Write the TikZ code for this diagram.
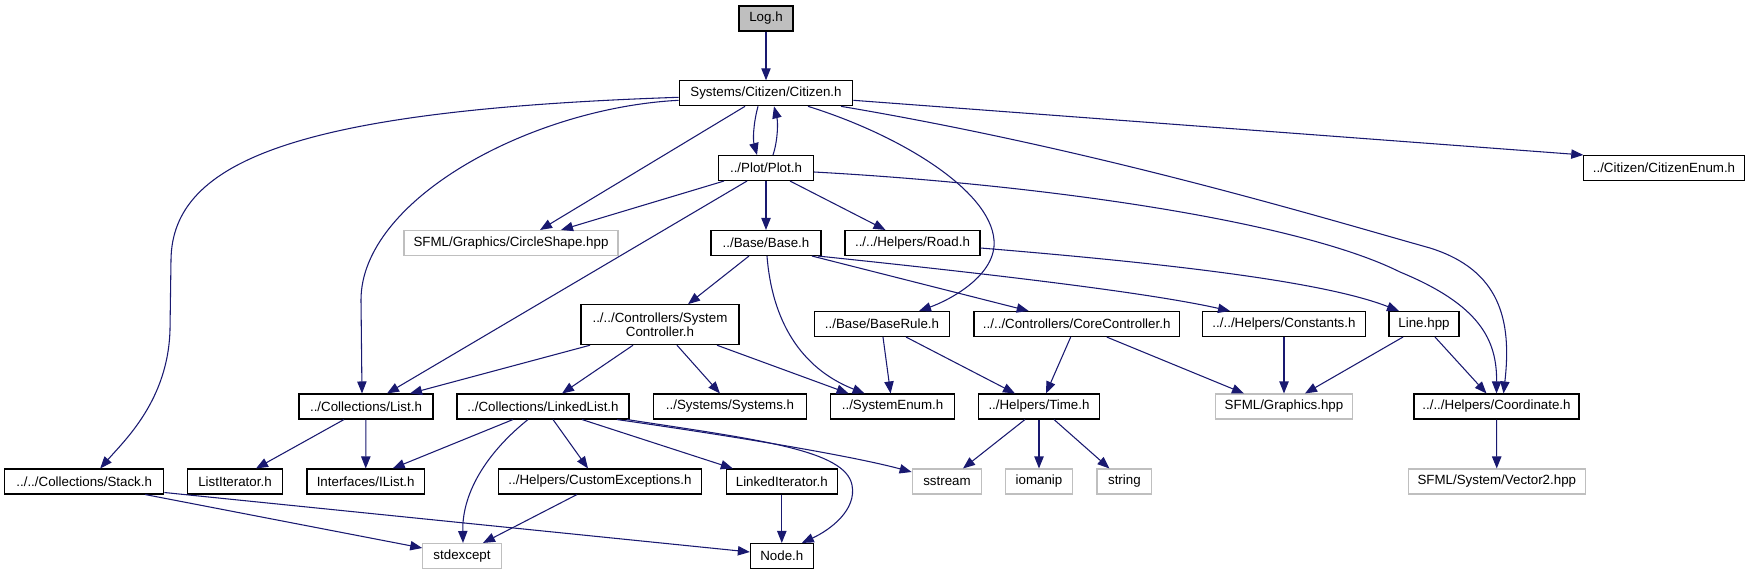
\documentclass[tikz,border=0pt]{standalone}
\usepackage{fontspec}
\setmainfont{Liberation Sans}
\usetikzlibrary{arrows.meta,calc}
\definecolor{edgec}{HTML}{191970}
\definecolor{grey75}{HTML}{BFBFBF}
\begin{document}
\begin{tikzpicture}[x=0.75pt,y=-0.75pt,
  dep/.style={draw=edgec, line width=0.8pt, -{Triangle[length=9pt,width=7pt]}},
  box/.style={draw=black, line width=0.8pt, fill=white, inner sep=0pt, minimum height=18.75pt, font=\fontsize{10}{10.5}\selectfont, align=center},
  ext/.style={box, draw=grey75},
  bw/.style={minimum width=#1*0.75pt}]
\useasboundingbox (0,0) rectangle (1757,575);
% row 0
\node[box, bw=54, fill=grey75] (log) at (766,18.5) {Log.h};
% row 1
\node[box, bw=173.6] (cit) at (766,93.3) {Systems/Citizen/Citizen.h};
% row 2
\node[box, bw=95] (plot) at (766,168) {../Plot/Plot.h};
\node[box, bw=160.4] (cenum) at (1664,168) {../Citizen/CitizenEnum.h};
% row 3
\node[ext, bw=214] (circ) at (511,243) {SFML/Graphics/CircleShape.hpp};
\node[box, bw=110] (base) at (766,243) {../Base/Base.h};
\node[box, bw=135] (road) at (912.5,243) {../../Helpers/Road.h};
% row 4
\node[box, bw=158, minimum height=30pt] (sysctl) at (660,324.7) {../../Controllers/System\\Controller.h};
\node[box, bw=134.7] (baserule) at (882,324) {../Base/BaseRule.h};
\node[box, bw=205.4] (corectl) at (1076.7,324) {../../Controllers/CoreController.h};
\node[box, bw=162.5] (constants) at (1284,324) {../../Helpers/Constants.h};
\node[box, bw=70] (line) at (1424,324) {Line.hpp};
% row 5
\node[box, bw=134] (list) at (366,406.5) {../Collections/List.h};
\node[box, bw=172] (linked) at (543,406.5) {../Collections/LinkedList.h};
\node[box, bw=153.5] (systems) at (730,406.5) {../Systems/Systems.h};
\node[box, bw=124.4] (sysenum) at (892.6,406.5) {../SystemEnum.h};
\node[box, bw=121.3] (time) at (1039,406.5) {../Helpers/Time.h};
\node[ext, bw=137] (graphics) at (1284,406.5) {SFML/Graphics.hpp};
\node[box, bw=165] (coord) at (1496.5,406.5) {../../Helpers/Coordinate.h};
% row 6
\node[box, bw=159.2] (stack) at (84.2,481.5) {../../Collections/Stack.h};
\node[box, bw=95] (listit) at (235,481.5) {ListIterator.h};
\node[box, bw=117.4] (ilist) at (365.7,481.5) {Interfaces/IList.h};
\node[box, bw=202.4] (custom) at (600,481.5) {../Helpers/CustomExceptions.h};
\node[box, bw=111] (linkit) at (781.8,481.5) {LinkedIterator.h};
\node[ext, bw=69.7] (sstream) at (947,481.5) {sstream};
\node[ext, bw=67] (iomanip) at (1039,481.5) {iomanip};
\node[ext, bw=54.8] (string) at (1124.4,481.5) {string};
\node[ext, bw=177.5] (vector2) at (1496.8,481.5) {SFML/System/Vector2.hpp};
% row 7
\node[ext, bw=78.5] (stdexcept) at (462,556) {stdexcept};
\node[box, bw=62.8] (nodeh) at (781.8,556) {Node.h};

% edges
\draw[dep] (log) -- (cit);
\draw[dep] ($(cit.south)+(-8,0)$) .. controls (753,125) and (753,140) .. ($(plot.north)+(-9,0)$);
\draw[dep] ($(plot.north)+(7,0)$) .. controls (778,140) and (778,122) .. ($(cit.south)+(8,0)$);
\draw[dep] ($(cit.east)+(0,7)$) -- (cenum.north west);
\draw[dep] ($(cit.south)+(-21,0)$) -- ($(circ.north)+(29,0)$);
\draw[dep] ($(cit.west)+(0,7)$) .. controls (530,108) and (361,200) .. (361,300) -- ($(list.north)+(-4,0)$);
\draw[dep] ($(cit.west)+(0,4)$) .. controls (300,110) and (172,160) .. (171,260) -- (170,330) .. controls (168,400) and (125,440) .. ($(stack.north)+(16,0)$);
\draw[dep] ($(cit.south)+(42,0)$) .. controls (900,135) and (990,190) .. (994,240) .. controls (997,275) and (950,300) .. ($(baserule.north)+(37,0)$);
\draw[dep] ($(cit.south)+(75,0)$) .. controls (1100,150) and (1330,220) .. (1430,248) .. controls (1500,270) and (1512,320) .. ($(coord.north)+(7,0)$);

\draw[dep] ($(plot.south)+(-42,0)$) -- ($(circ.north)+(50,0)$);
\draw[dep] ($(plot.south)+(-19,0)$) -- ($(list.north)+(21,0)$);
\draw[dep] (plot) -- (base);
\draw[dep] ($(plot.south)+(24,0)$) -- ($(road.north)+(-27,0)$);
\draw[dep] ($(plot.east)+(0,4)$) .. controls (1050,185) and (1300,222) .. (1400,272) .. controls (1480,305) and (1497,340) .. (coord.north);

\draw[dep] ($(base.south)+(-17,0)$) -- ($(sysctl.north)+(28,0)$);
\draw[dep] ($(base.south)+(1,0)$) .. controls (772,320) and (800,368) .. ($(sysenum.north)+(-28,0)$);
\draw[dep] ($(base.south)+(46,0)$) -- ($(corectl.north)+(-48,0)$);
\draw[dep] ($(base.south)+(52,0)$) .. controls (1000,275) and (1150,293) .. ($(constants.north)+(-54,0)$);
\draw[dep] ($(road.east)+(0,5)$) .. controls (1150,262) and (1320,280) .. ($(line.north)+(-25,0)$);

\draw[dep] ($(sysctl.south)+(-70,0)$) -- ($(list.north)+(44,0)$);
\draw[dep] ($(sysctl.south)+(-27,0)$) -- ($(linked.north)+(19,0)$);
\draw[dep] ($(sysctl.south)+(17,0)$) -- ($(systems.north)+(-10,0)$);
\draw[dep] ($(sysctl.south)+(57,0)$) -- ($(sysenum.north)+(-44,0)$);
\draw[dep] ($(baserule.south)+(1,0)$) -- ($(sysenum.north)+(-2,0)$);
\draw[dep] ($(baserule.south)+(24,0)$) -- ($(time.north)+(-24,0)$);
\draw[dep] ($(corectl.south)+(-6,0)$) -- ($(time.north)+(7,0)$);
\draw[dep] ($(corectl.south)+(30,0)$) -- ($(graphics.north)+(-40,0)$);
\draw[dep] (constants) -- (graphics);
\draw[dep] ($(line.south)+(-21,0)$) -- ($(graphics.north)+(21,0)$);
\draw[dep] ($(line.south)+(11,0)$) -- ($(coord.north)+(-10,0)$);
\draw[dep] (coord) -- (vector2);

\draw[dep] ($(list.south)+(-22,0)$) -- ($(listit.north)+(21,0)$);
\draw[dep] (list) -- (ilist);
\draw[dep] ($(linked.south)+(-30,0)$) -- ($(ilist.north)+(27,0)$);
\draw[dep] ($(linked.south)+(-15,0)$) .. controls (490,450) and (462,490) .. ($(stdexcept.north)+(1,0)$);
\draw[dep] ($(linked.south)+(10,0)$) -- ($(custom.north)+(-12,0)$);
\draw[dep] ($(linked.south)+(39,0)$) -- ($(linkit.north)+(-49,0)$);
\draw[dep] ($(linked.south)+(74,0)$) .. controls (760,440) and (860,458) .. ($(sstream.west)+(0,-9.5)$);
\draw[dep] ($(linked.south)+(84,0)$) .. controls (760,440) and (845,450) .. (852,485) .. controls (857,510) and (830,530) .. ($(nodeh.north)+(20,0)$);
\draw[dep] ($(time.south)+(-14,0)$) -- ($(sstream.north)+(16,0)$);
\draw[dep] (time) -- (iomanip);
\draw[dep] ($(time.south)+(15,0)$) -- ($(string.north)+(-15,0)$);
\draw[dep] ($(stack.south)+(61,0)$) -- ($(stdexcept.west)+(0,-8)$);
\draw[dep] ($(stack.east)+(0,11)$) -- ($(nodeh.west)+(0,-4)$);
\draw[dep] ($(custom.south)+(-23,0)$) -- ($(stdexcept.north)+(21,0)$);
\draw[dep] (linkit) -- (nodeh);
\end{tikzpicture}
\end{document}
